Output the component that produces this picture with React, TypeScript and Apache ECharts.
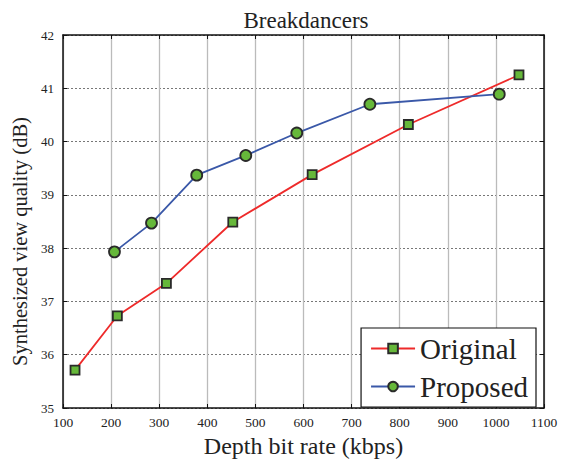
import React, { useEffect, useRef } from "react";
import * as echarts from "echarts";

const originalX = [125, 213, 315, 453, 618, 818, 1048];
const originalY = [35.71, 36.73, 37.34, 38.49, 39.38, 40.32, 41.25];
const proposedX = [207, 284, 378, 480, 586, 738, 1007];
const proposedY = [37.93, 38.47, 39.37, 39.74, 40.16, 40.7, 40.89];

const FONT = "'Liberation Serif', 'Times New Roman', serif";

export default function App() {
  const ref = useRef<HTMLDivElement>(null);
  useEffect(() => {
    if (!ref.current) return;
    const chart = echarts.init(ref.current, undefined, { renderer: "svg" });
    const axisCommon = {
      axisLine: { show: true, lineStyle: { color: "#111", width: 1.5 } },
      axisTick: { show: true, inside: true, length: 4, lineStyle: { color: "#111" } },
    };
    chart.setOption({
      animation: false,
      backgroundColor: "#fff",
      textStyle: { fontFamily: FONT },
      title: {
        text: "Breakdancers",
        left: 301,
        textAlign: "center",
        top: 4,
        textStyle: { fontFamily: FONT, fontSize: 23, fontWeight: "normal", color: "#222" },
      },
      grid: { left: 63, right: 29, top: 35, bottom: 51 },
      xAxis: [
        {
          type: "value",
          min: 100,
          max: 1100,
          interval: 100,
          position: "bottom",
          ...axisCommon,
          axisLabel: { fontFamily: FONT, fontSize: 13.5, color: "#222", margin: 7, formatter: (v: number) => String(v) },
          splitLine: { show: true, lineStyle: { color: "#bbb", width: 1.3, type: "solid" } },
          name: "Depth bit rate (kbps)",
          nameLocation: "middle",
          nameGap: 26,
          nameTextStyle: { fontFamily: FONT, fontSize: 24, color: "#222" },
        },
        {
          type: "value",
          min: 100,
          max: 1100,
          interval: 100,
          position: "top",
          ...axisCommon,
          axisLabel: { show: false },
          splitLine: { show: false },
        },
      ],
      yAxis: [
        {
          type: "value",
          min: 35,
          max: 42,
          interval: 1,
          position: "left",
          ...axisCommon,
          axisLabel: { fontFamily: FONT, fontSize: 13, color: "#222", margin: 9, formatter: (v: number) => String(v) },
          splitLine: { show: true, lineStyle: { color: "#777", width: 1, type: [2, 2] } },
          name: "Synthesized view quality (dB)",
          nameLocation: "middle",
          nameGap: 26,
          nameTextStyle: { fontFamily: FONT, fontSize: 20.5, color: "#222", padding: [0, 40, 0, 0] },
        },
        {
          type: "value",
          min: 35,
          max: 42,
          interval: 1,
          position: "right",
          ...axisCommon,
          axisLabel: { show: false },
          splitLine: { show: false },
        },
      ],
      legend: {
        orient: "vertical",
        right: 37,
        bottom: 56,
        backgroundColor: "#fff",
        borderColor: "#111",
        borderWidth: 1.2,
        borderRadius: 0,
        padding: [6, 8, 6, 9],
        itemGap: 9,
        itemWidth: 44,
        itemHeight: 12,
        textStyle: { fontFamily: FONT, fontSize: 29, color: "#222" },
        data: ["Original", "Proposed"],
      },
      series: [
        {
          name: "Original",
          type: "line",
          data: originalX.map((x, i) => [x, originalY[i]]),
          symbol: "rect",
          symbolSize: 9,
          lineStyle: { color: "#ee2a2a", width: 1.8 },
          itemStyle: { color: "#66b83a", borderColor: "#2a2a2a", borderWidth: 1.8 },
          z: 3,
        },
        {
          name: "Proposed",
          type: "line",
          data: proposedX.map((x, i) => [x, proposedY[i]]),
          symbol: "circle",
          symbolSize: 11,
          lineStyle: { color: "#3a58a8", width: 1.8 },
          itemStyle: { color: "#66b83a", borderColor: "#2a2a2a", borderWidth: 1.8 },
          z: 3,
        },
      ],
    });
    return () => chart.dispose();
  }, []);
  return <div ref={ref} style={{ width: 573, height: 463, position: "absolute", left: 0, top: 0 }} />;
}
